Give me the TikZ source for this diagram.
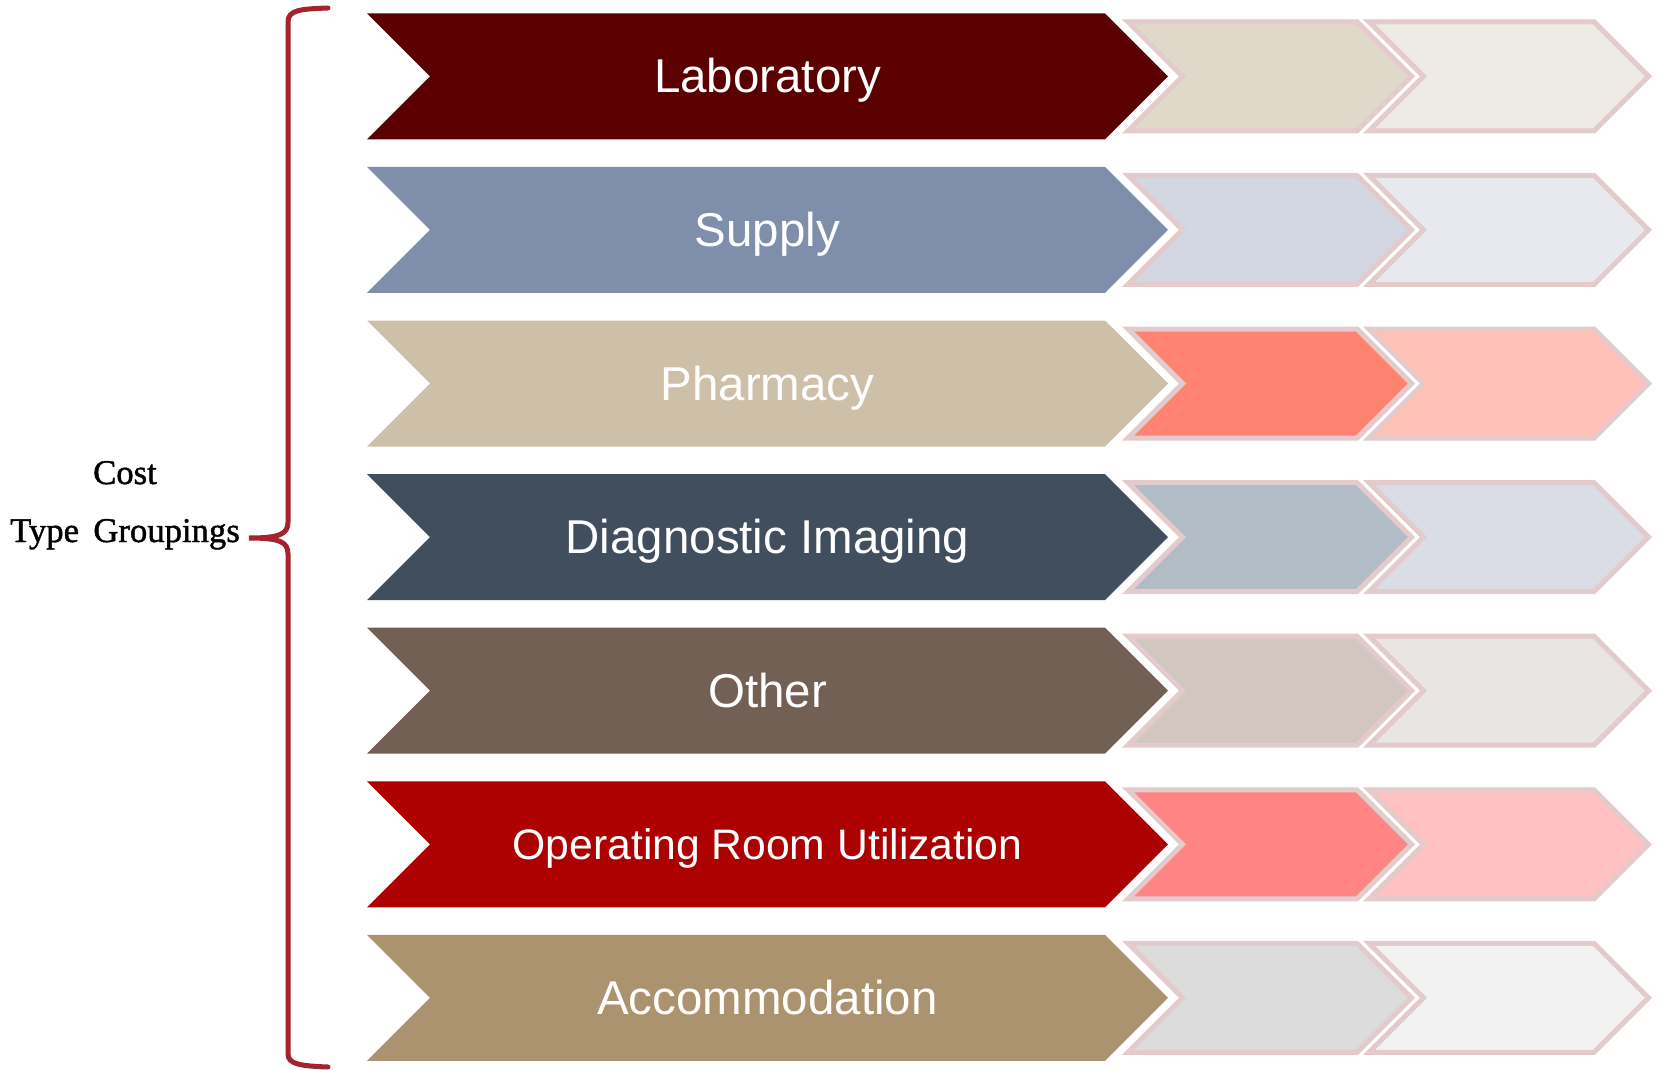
\documentclass[tikz,border=0pt]{standalone}
\usepackage{fontspec}
\setmainfont{Liberation Serif}
\newfontfamily\arialf{Liberation Sans}
\newfontfamily\sidefont[FakeBold=1.2]{Liberation Serif}
\definecolor{bA}{HTML}{5A0000}\definecolor{sA}{HTML}{E0D9C9}\definecolor{tA}{HTML}{EEEBE4}
\definecolor{bB}{HTML}{7F8EAA}\definecolor{sB}{HTML}{D3D7E1}\definecolor{tB}{HTML}{E8E9EF}
\definecolor{bC}{HTML}{CEBFA8}\definecolor{sC}{HTML}{FF8370}\definecolor{tC}{HTML}{FFC0B6}
\definecolor{bD}{HTML}{414E5E}\definecolor{sD}{HTML}{B2BCC7}\definecolor{tD}{HTML}{DADDE5}
\definecolor{bE}{HTML}{726055}\definecolor{sE}{HTML}{D1C6C0}\definecolor{tE}{HTML}{E9E5E2}
\definecolor{bF}{HTML}{AD0000}\definecolor{sF}{HTML}{FF8585}\definecolor{tF}{HTML}{FFC1C1}
\definecolor{bG}{HTML}{AB936F}\definecolor{sG}{HTML}{DCDCDC}\definecolor{tG}{HTML}{F2F2F2}
\definecolor{outl}{HTML}{E3CACB}
\definecolor{brace}{HTML}{A4232C}
\newcommand\chevpath[4]{(#1,#3-#4) -- (#2,#3-#4) -- (#2+#4,#3) -- (#2,#3+#4) -- (#1,#3+#4) -- (#1+#4,#3) -- cycle}
\begin{document}
\begin{tikzpicture}[x=0.75pt,y=-0.75pt,
  smallchev/.style={draw=outl,line width=3.75pt},
  chevlabel/.style={text=white,anchor=base,inner sep=0pt},
  sidelabel/.style={anchor=base,inner sep=0pt,font=\sidefont\fontsize{26}{30}\selectfont}]
\useasboundingbox[fill=white] (0,0) rectangle (1661,1070);
\foreach \i/\lbl/\c/\fs in {1/Laboratory/A/35.6, 2/Supply/B/35.6, 3/Pharmacy/C/35.6, 4/Diagnostic Imaging/D/35.6, 5/Other/E/35.6, 6/Operating Room Utilization/F/32, 7/Accommodation/G/35.6}{
  \pgfmathsetmacro\yc{76.3+153.6*(\i-1)}
  \fill[b\c] \chevpath{367}{1105}{\yc}{63};
  \filldraw[smallchev,fill=s\c] \chevpath{1128}{1357}{\yc}{54.5};
  \filldraw[smallchev,fill=t\c] \chevpath{1369}{1594}{\yc}{54.5};
  \node[chevlabel,font=\arialf\fontsize{\fs}{40}\selectfont] (lab\i) at (767.5,\yc+0.35*\fs/0.75) {\lbl};
}
\draw[brace,line width=3.75pt,line cap=round] (328,8) .. controls (300,9) and (288,10) .. (288,22) -- (288,522)
  .. controls (288,534) and (280,538) .. (249,538) .. controls (280,538) and (288,542) .. (288,554)
  -- (288,1054) .. controls (288,1064) and (300,1066) .. (328,1067);
\node[sidelabel] (cost) at (125,484) {Cost};
\node[sidelabel] (tg) at (125,542) {Type\, Groupings};
\end{tikzpicture}
\end{document}
